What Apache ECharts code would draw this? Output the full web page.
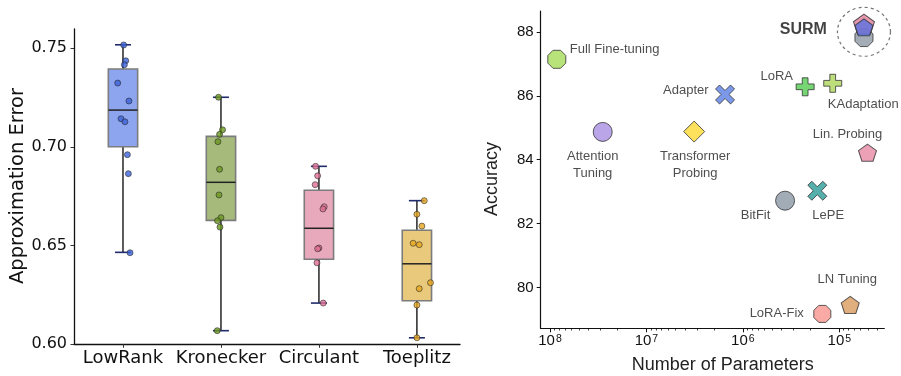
<!DOCTYPE html>
<html>
<head>
<meta charset="utf-8">
<script src="https://cdn.jsdelivr.net/npm/echarts@6/dist/echarts.min.js"></script>
<style>
  html, body { margin: 0; padding: 0; background: #fff; }
  #main { width: 901px; height: 376px; }
</style>
</head>
<body>
<div id="main"></div>
<script>
// ---- left panel: approximation error per structure ----
var methods = ['LowRank', 'Kronecker', 'Circulant', 'Toeplitz'];
// [lower whisker, q1, median, q3, upper whisker]
var boxStats = [
  [0.6466, 0.7001, 0.7187, 0.7395, 0.7518],
  [0.6069, 0.6628, 0.6821, 0.7054, 0.7252],
  [0.6209, 0.6431, 0.6588, 0.6781, 0.6902],
  [0.6033, 0.6221, 0.6408, 0.6578, 0.6728]
];
var lowRankErr   = [0.7517, 0.7437, 0.7417, 0.7324, 0.7233, 0.7143, 0.7128, 0.6961, 0.6865, 0.6464];
var kroneckerErr = [0.7252, 0.7087, 0.7064, 0.7027, 0.6887, 0.6757, 0.6642, 0.6626, 0.6594, 0.6069];
var circulantErr = [0.6902, 0.6854, 0.6809, 0.6697, 0.6686, 0.6488, 0.6484, 0.6413, 0.6209];
var toeplitzErr  = [0.6728, 0.6659, 0.6599, 0.6512, 0.6505, 0.6312, 0.6282, 0.6199, 0.6033];
// horizontal strip jitter (category units)
var lowRankJit   = [0.007, 0.028, 0.014, -0.054, 0.061, -0.020, 0.020, 0.045, 0.055, 0.072];
var kroneckerJit = [-0.025, 0.016, -0.014, -0.031, -0.014, -0.020, 0, -0.035, -0.010, -0.038];
var circulantJit = [-0.034, -0.013, -0.038, 0.054, 0.041, 0, -0.013, -0.020, 0.044];
var toeplitzJit  = [0.075, 0, 0.051, -0.038, 0.024, 0.139, 0.024, 0, 0];
var errTicks = [0.60, 0.65, 0.70, 0.75];

// ---- right panel: accuracy vs. trainable parameters ----
var peftNames = ['Full Fine-tuning', 'Attention\nTuning', 'Transformer\nProbing', 'Adapter', 'LoRA',
  'KAdaptation', 'Lin. Probing', 'BitFit', 'LePE', 'LoRA-Fix', 'LN Tuning'];
var peftParams = [8.5e7, 2.84e7, 3.2e6, 1.53e6, 2.26e5, 1.17e5, 5.1e4, 3.65e5, 1.69e5, 1.5e5, 7.7e4];
var peftAcc    = [87.14, 84.87, 84.88, 86.04, 86.28, 86.39, 84.22, 82.72, 83.03, 79.18, 79.46];
var surmParams = [5.55e4, 5.55e4, 5.55e4];
var surmAcc    = [87.82, 88.24, 88.14];
var accTicks   = [80, 82, 84, 86, 88];
var paramExps  = [8, 7, 6, 5];

var boxFill  = ['#8da5ee', '#a6ba7c', '#e8a9bd', '#e9ca7c'];
var dotColor = ['#3c62d8', '#6a961e', '#de6f95', '#e5a51e'];

var OCT = 'path://M29,0L71,0L100,29L100,71L71,100L29,100L0,71L0,29Z';
var PENT = 'path://M50,0L100,38.2L80.9,100L19.1,100L0,38.2Z';
var PLUS = 'path://M34,0L66,0L66,34L100,34L100,66L66,66L66,100L34,100L34,66L0,66L0,34L34,34Z';
var CROSS = 'path://M0,21L21,0L50,29L79,0L100,21L71,50L100,79L79,100L50,71L21,100L0,79L29,50Z';

// marker style + label placement for each method
var peftStyle = [
  { symbol: OCT, size: 18, color: '#a6dc5a', label: { position: 'right', distance: 3.5, offset: [0, -10] } },
  { symbol: 'circle', size: 19, color: '#a98ee3', label: { position: 'bottom', distance: 6, offset: [-10, 0] } },
  { symbol: 'diamond', size: 21, color: '#fcd935', label: { position: 'bottom', distance: 5, offset: [1, 0] } },
  { symbol: CROSS, size: 19, color: '#5b7fe3', label: { position: 'left', distance: 6.5, offset: [0, -3.6] } },
  { symbol: PLUS, size: 18, color: '#52cc50', label: { position: 'left', distance: 2.7, offset: [0, -10] } },
  { symbol: PLUS, size: 18, color: '#aed65a', label: { position: 'right', distance: 5, offset: [-19.4, 21] } },
  { symbol: PENT, size: [18, 17], color: '#e889a4', label: { position: 'top', distance: 1, offset: [-20, 0] } },
  { symbol: 'circle', size: 19, color: '#8a97a5', label: { position: 'left', distance: 4.7, offset: [0, 14.3] } },
  { symbol: CROSS, size: 19, color: '#2b9b96', label: { position: 'right', distance: 5, offset: [-20, 24.3] } },
  { symbol: OCT, size: 17, color: '#f7958f', label: { position: 'left', distance: 9.5, offset: [0, 0] } },
  { symbol: PENT, size: [18, 17], color: '#d99a5e', label: { position: 'top', distance: 8, offset: [-3, 0] } }
];
var surmStyle = [
  { symbol: OCT, size: 18, color: '#8d98a4' },
  { symbol: PENT, size: [21, 20], color: '#e07e9a' },
  { symbol: PENT, size: [18, 17], color: '#5a72e0' }
];

var errSets = [lowRankErr, kroneckerErr, circulantErr, toeplitzErr];
var jitSets = [lowRankJit, kroneckerJit, circulantJit, toeplitzJit];

var log10 = function (v) { return Math.log10(v); };
var xMinLog = 4.5333, xMaxLog = 8.0964;

var minorTicks = [];
for (var e = 4; e <= 7; e++) {
  for (var k = 2; k <= 9; k++) {
    var lv = log10(k * Math.pow(10, e));
    if (lv > xMinLog && lv < xMaxLog) minorTicks.push(lv);
  }
}

var boxData = boxStats.map(function (s, i) { return [i].concat(s); });

var stripSeries = errSets.map(function (vals, c) {
  return {
    type: 'scatter', xAxisIndex: 0, yAxisIndex: 0, z: 3,
    symbolSize: 6,
    itemStyle: { color: dotColor[c], borderColor: '#222', borderWidth: 0.7 },
    data: vals.map(function (v, j) { return [c + jitSets[c][j], v]; })
  };
});

var peftData = peftNames.map(function (n, i) {
  var st = peftStyle[i];
  return {
    name: n,
    value: [log10(peftParams[i]), peftAcc[i]],
    symbol: st.symbol, symbolSize: st.size,
    itemStyle: { color: st.color },
    label: st.label
  };
});

var surmData = surmAcc.map(function (a, i) {
  var st = surmStyle[i];
  return {
    value: [log10(surmParams[i]), a],
    symbol: st.symbol, symbolSize: st.size,
    itemStyle: { color: st.color }
  };
});

var chart = echarts.init(document.getElementById('main'), null, { renderer: 'canvas' });

var option = {
  animation: false,
  backgroundColor: '#fff',
  grid: [
    { left: 74, top: 29, width: 386, height: 315.3 },
    { left: 540.7, top: 11, width: 343.6, height: 317.3 }
  ],
  xAxis: [
    {
      gridIndex: 0, type: 'value', min: -0.5, max: 3.44, position: 'bottom',
      axisLine: { onZero: false, lineStyle: { color: '#111', width: 1.3 } },
      axisTick: { customValues: [0, 1, 2, 3], length: 3.5, lineStyle: { color: '#333' } },
      axisLabel: {
        customValues: [0, 1, 2, 3], margin: 5,
        formatter: function (v) { return methods[Math.round(v)]; },
        fontFamily: 'DejaVu Sans', fontSize: 18, color: '#111'
      },
      splitLine: { show: false }
    },
    {
      gridIndex: 1, type: 'value', min: xMinLog, max: xMaxLog, inverse: true, position: 'bottom',
      axisLine: { onZero: false, lineStyle: { color: '#111', width: 1.2 } },
      axisTick: { customValues: paramExps, length: 4, lineStyle: { color: '#111' } },
      axisLabel: {
        customValues: paramExps, margin: 5,
        formatter: function (v) { return '{b|10}{s|' + Math.round(v) + '}'; },
        rich: {
          b: { fontFamily: 'Liberation Sans', fontSize: 15, color: '#111' },
          s: { fontFamily: 'Liberation Sans', fontSize: 10.5, color: '#111', verticalAlign: 'top', padding: [0, 0, 0, 1] }
        }
      },
      splitLine: { show: false }
    },
    {
      gridIndex: 1, type: 'value', min: xMinLog, max: xMaxLog, inverse: true, position: 'bottom', offset: 0,
      axisLine: { show: false, onZero: false },
      axisTick: { customValues: minorTicks, length: 2.2, lineStyle: { color: '#111', width: 0.8 } },
      axisLabel: { show: false },
      splitLine: { show: false }
    }
  ],
  yAxis: [
    {
      gridIndex: 0, type: 'value', min: 0.6, max: 0.7598, position: 'left',
      axisLine: { show: true, onZero: false, lineStyle: { color: '#111', width: 1.3 } },
      axisTick: { show: true, customValues: errTicks, length: 3.5, lineStyle: { color: '#333' } },
      axisLabel: {
        customValues: errTicks, margin: 7,
        formatter: function (v) { return v.toFixed(2); },
        fontFamily: 'DejaVu Sans', fontSize: 16, color: '#111'
      },
      splitLine: { show: false }
    },
    {
      gridIndex: 1, type: 'value', min: 78.73, max: 88.65, position: 'left',
      axisLine: { show: true, onZero: false, lineStyle: { color: '#111', width: 1.2 } },
      axisTick: { show: true, customValues: accTicks, length: 4, lineStyle: { color: '#111' } },
      axisLabel: {
        customValues: accTicks, margin: 7,
        fontFamily: 'Liberation Sans', fontSize: 15, color: '#111'
      },
      splitLine: { show: false }
    }
  ],
  graphic: [
    { type: 'text', x: 17.5, y: 186, rotation: Math.PI / 2,
      style: { text: 'Approximation Error', font: '19.5px "DejaVu Sans"', fill: '#111', align: 'center', verticalAlign: 'middle' } },
    { type: 'text', x: 491.7, y: 179, rotation: Math.PI / 2,
      style: { text: 'Accuracy', font: '18px "Liberation Sans"', fill: '#222', align: 'center', verticalAlign: 'middle' } },
    { type: 'text', x: 722.7, y: 365, rotation: 0,
      style: { text: 'Number of Parameters', font: '18px "Liberation Sans"', fill: '#222', align: 'center', verticalAlign: 'middle' } }
  ],
  series: [
    {
      type: 'custom', xAxisIndex: 0, yAxisIndex: 0, z: 2,
      encode: { x: 0, y: [1, 2, 3, 4, 5] },
      data: boxData,
      renderItem: function (params, api) {
        var i = api.value(0);
        var lo = api.coord([i, api.value(1)]);
        var q1 = api.coord([i, api.value(2)]);
        var md = api.coord([i, api.value(3)]);
        var q3 = api.coord([i, api.value(4)]);
        var hi = api.coord([i, api.value(5)]);
        var cx = lo[0], bw = 29.3, cw = 16;
        var whisk = { stroke: '#333', lineWidth: 1.6 };
        var cap = { stroke: '#1f2b6b', lineWidth: 1.6 };
        return {
          type: 'group',
          children: [
            { type: 'line', shape: { x1: cx, y1: lo[1], x2: cx, y2: q1[1] }, style: whisk },
            { type: 'line', shape: { x1: cx, y1: q3[1], x2: cx, y2: hi[1] }, style: whisk },
            { type: 'rect', shape: { x: cx - bw / 2, y: q3[1], width: bw, height: q1[1] - q3[1] },
              style: { fill: boxFill[params.dataIndex], stroke: '#7c7c7c', lineWidth: 1.6 } },
            { type: 'line', shape: { x1: cx - bw / 2, y1: md[1], x2: cx + bw / 2, y2: md[1] },
              style: { stroke: '#222', lineWidth: 1.5 } },
            { type: 'line', z2: 10, shape: { x1: cx - cw / 2, y1: lo[1], x2: cx + cw / 2, y2: lo[1] }, style: cap },
            { type: 'line', z2: 10, shape: { x1: cx - cw / 2, y1: hi[1], x2: cx + cw / 2, y2: hi[1] }, style: cap }
          ]
        };
      }
    }
  ].concat(stripSeries).concat([
    {
      type: 'scatter', xAxisIndex: 1, yAxisIndex: 1, z: 3,
      itemStyle: { borderColor: '#333', borderWidth: 1 },
      label: {
        show: true, formatter: '{b}', fontFamily: 'Liberation Sans', fontSize: 13,
        color: '#222', lineHeight: 17
      },
      data: peftData
    },
    {
      type: 'scatter', xAxisIndex: 1, yAxisIndex: 1, z: 3,
      itemStyle: { borderColor: '#333', borderWidth: 1 },
      data: surmData
    },
    {
      type: 'scatter', xAxisIndex: 1, yAxisIndex: 1, z: 4, silent: true,
      data: [{
        name: 'SURM',
        value: [log10(surmParams[0]), 88.0],
        symbol: 'circle', symbolSize: [53, 49],
        itemStyle: { color: 'rgba(0,0,0,0)', borderColor: '#555', borderWidth: 1.2, borderType: [3, 3] },
        label: {
          show: true, position: 'left', distance: 10, offset: [0, -2],
          formatter: '{b}', fontFamily: 'Liberation Sans', fontWeight: 'bold', fontSize: 16, color: '#111'
        }
      }]
    }
  ])
};

chart.setOption(option);
</script>
</body>
</html>
